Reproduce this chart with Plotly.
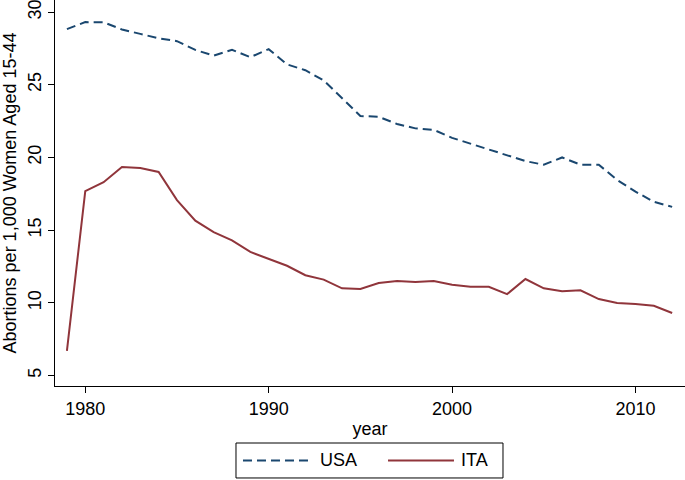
import plotly.graph_objects as go

years = list(range(1979, 2013))
usa = [28.83, 29.31, 29.3, 28.8, 28.5, 28.2, 28.0, 27.4, 27.0, 27.4, 26.9, 27.45,
       26.4, 26.0, 25.3, 24.1, 22.85, 22.8, 22.3, 22.0, 21.9, 21.35, 20.95, 20.55,
       20.2, 19.75, 19.5, 20.0, 19.5, 19.5, 18.45, 17.65, 16.95, 16.6]
ita = [6.69, 17.69, 18.3, 19.34, 19.27, 19.0, 17.07, 15.65, 14.87, 14.3, 13.5, 13.0,
       12.55, 11.9, 11.6, 11.0, 10.95, 11.36, 11.5, 11.43, 11.5, 11.25, 11.1, 11.1,
       10.6, 11.64, 11.0, 10.8, 10.86, 10.26, 9.99, 9.92, 9.8, 9.3]
xticks = [1980, 1990, 2000, 2010]
yticks = [5, 10, 15, 20, 25, 30]
series_names = ["USA", "ITA"]
colors = ["#1a476f", "#90353b"]

font = "Liberation Sans, Arial, sans-serif"

fig = go.Figure()
fig.add_trace(go.Scatter(x=years, y=usa, mode="lines", name=series_names[0], showlegend=False,
                         line=dict(color=colors[0], width=2, dash="9px,5px")))
fig.add_trace(go.Scatter(x=years, y=ita, mode="lines", name=series_names[1], showlegend=False,
                         line=dict(color=colors[1], width=2)))

# custom legend (Stata style) in paper coordinates
ly = -0.193
shapes = [
    dict(type="rect", xref="paper", yref="paper", x0=0.2873, x1=0.7111, y0=-0.2383, y1=-0.1477,
         line=dict(color="black", width=1), fillcolor="white"),
    dict(type="line", xref="paper", yref="paper", x0=0.2984, x1=0.4079, y0=ly, y1=ly,
         line=dict(color=colors[0], width=2, dash="9px,5px")),
    dict(type="line", xref="paper", yref="paper", x0=0.5286, x1=0.6333, y0=ly, y1=ly,
         line=dict(color=colors[1], width=2)),
]
annotations = [
    dict(text=series_names[0], xref="paper", yref="paper", x=0.4175, y=ly, xanchor="left",
         yanchor="middle", showarrow=False, font=dict(size=18)),
    dict(text=series_names[1], xref="paper", yref="paper", x=0.6413, y=ly, xanchor="left",
         yanchor="middle", showarrow=False, font=dict(size=18)),
]

fig.update_layout(
    width=685, height=480,
    margin=dict(l=55, r=0, t=0, b=94),
    paper_bgcolor="white", plot_bgcolor="white",
    font=dict(family=font, size=18, color="black"),
    showlegend=False,
    shapes=shapes, annotations=annotations,
    xaxis=dict(range=[1978.35, 2012.7], tickvals=xticks, showgrid=False, zeroline=False,
               showline=True, linecolor="black", linewidth=1, ticks="outside",
               ticklen=6, tickcolor="black", automargin=False,
               title=dict(text="year", standoff=4, font=dict(size=18))),
    yaxis=dict(range=[4.28, 30.83], tickvals=yticks, showgrid=False, zeroline=False,
               showline=True, linecolor="black", linewidth=1, ticks="outside",
               ticklen=6, tickcolor="black", tickangle=-90, automargin=False,
               ticklabeloverflow="allow",
               title=dict(text="Abortions per 1,000 Women Aged 15-44", standoff=4,
                          font=dict(size=18))),
)

fig.write_html("out.html", config={"displayModeBar": False},
               post_script="document.body.style.margin='0';")
